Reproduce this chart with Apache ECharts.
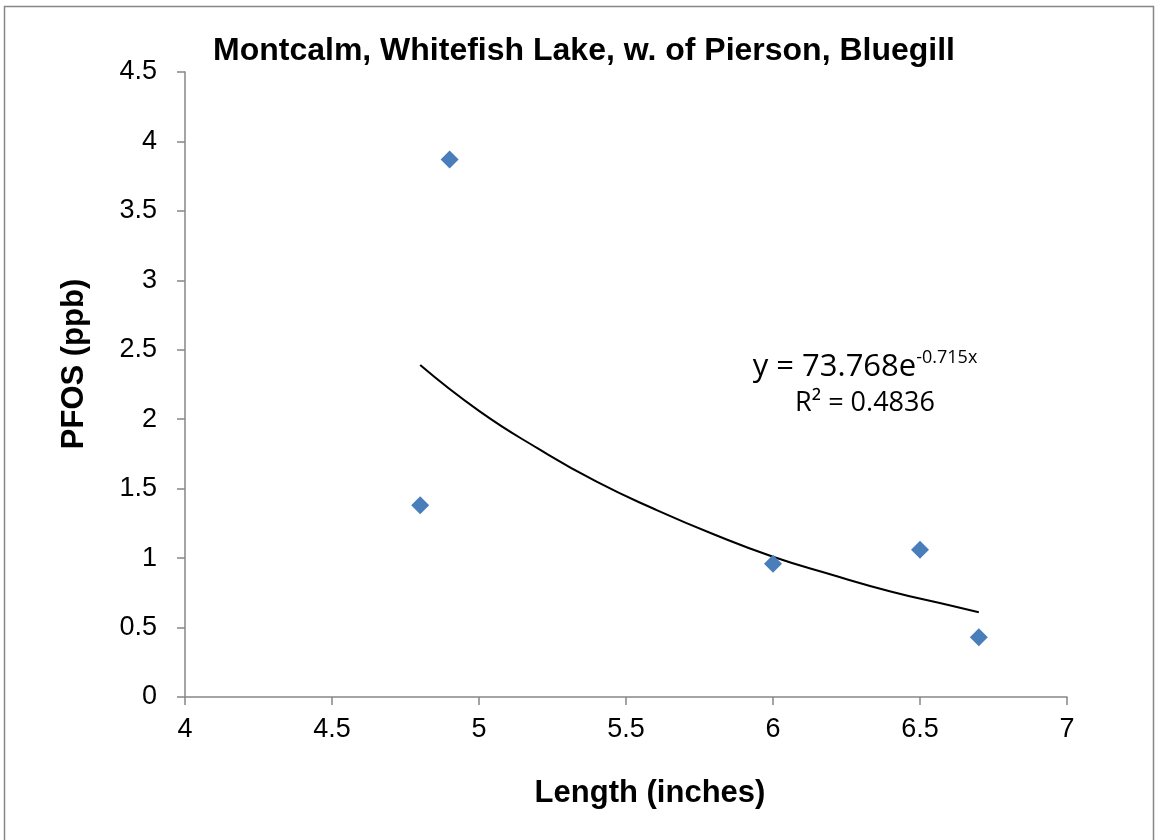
<!DOCTYPE html>
<html><head><meta charset="utf-8">
<script src="https://cdn.jsdelivr.net/npm/echarts@6/dist/echarts.min.js"></script>
<style>html,body{margin:0;padding:0;background:#fff}#c{width:1156px;height:840px}</style>
</head><body><div id="c"></div>
<script>
const lengths = [4.8, 4.9, 6.0, 6.5, 6.7];
const pfos = [1.38, 3.87, 0.96, 1.06, 0.43];
const trendX = [4.8, 5.0, 5.2, 5.4, 5.6, 5.8, 6.0, 6.2, 6.4, 6.6, 6.7];
const trendY = [2.39, 2.06, 1.79, 1.55, 1.35, 1.17, 1.01, 0.88, 0.76, 0.66, 0.61];
const xTicks = [4, 4.5, 5, 5.5, 6, 6.5, 7];
const yTicks = [0, 0.5, 1, 1.5, 2, 2.5, 3, 3.5, 4, 4.5];

const chart = echarts.init(document.getElementById('c'), null, {renderer: 'canvas'});
const font = 'Liberation Sans, Arial, sans-serif';
chart.setOption({
  animation: false,
  backgroundColor: '#fff',
  title: {
    text: 'Montcalm, Whitefish Lake, w. of Pierson, Bluegill',
    left: 579, top: 30, textAlign: 'center',
    textStyle: {fontFamily: font, fontWeight: 'bold', fontSize: 32, color: '#000'}
  },
  grid: {left: 185, right: 89, top: 72, bottom: 143},
  xAxis: {
    type: 'value', min: xTicks[0], max: xTicks[xTicks.length - 1], interval: 0.5,
    axisLine: {lineStyle: {color: '#868686', width: 1.5}},
    axisTick: {show: true, length: 8, lineStyle: {color: '#868686', width: 1.5}},
    axisLabel: {fontFamily: font, fontSize: 27, color: '#000', margin: 19},
    splitLine: {show: false}
  },
  yAxis: {
    type: 'value', min: yTicks[0], max: yTicks[yTicks.length - 1], interval: 0.5,
    axisLine: {show: true, lineStyle: {color: '#868686', width: 1.5}},
    axisTick: {show: true, length: 8, lineStyle: {color: '#868686', width: 1.5}},
    axisLabel: {fontFamily: font, fontSize: 27, color: '#000', margin: 28},
    splitLine: {show: false}
  },
  series: [
    {
      type: 'line', data: trendX.map((x, i) => [x, trendY[i]]),
      smooth: true, showSymbol: false, symbol: 'none',
      lineStyle: {color: '#000', width: 2}, z: 2
    },
    {
      type: 'scatter', data: lengths.map((x, i) => [x, pfos[i]]),
      symbol: 'diamond', symbolSize: 18,
      itemStyle: {color: '#4A7EBB', opacity: 1}, z: 3
    }
  ],
  graphic: [
    {type: 'rect', shape: {x: 4.5, y: 6.5, width: 1149, height: 840}, style: {fill: 'none', stroke: '#868686', lineWidth: 1.5}, silent: true},
    {type: 'text', x: 74, y: 364, rotation: Math.PI / 2, style: {
      text: 'PFOS (ppb)', fill: '#000', align: 'center', verticalAlign: 'middle',
      font: 'bold 31px Liberation Sans, Arial, sans-serif'
    }},
    {type: 'text', x: 650, y: 793, style: {
      text: 'Length (inches)', fill: '#000', align: 'center', verticalAlign: 'middle',
      font: 'bold 31px Liberation Sans, Arial, sans-serif'
    }},
    {type: 'text', x: 865, y: 366, style: {
      text: '{a|y = 73.768e}{b|-0.715x}', fill: '#000', align: 'center', verticalAlign: 'middle',
      rich: {a: {fontFamily: 'Open Sans, sans-serif', fontSize: 31, verticalAlign: 'bottom', fill: '#000'}, b: {fontFamily: 'Open Sans, sans-serif', fontSize: 18, verticalAlign: 'top', padding: [0, 0, 16, 0], fill: '#000'}}
    }},
    {type: 'text', x: 865, y: 403, style: {
      text: 'R² = 0.4836', fill: '#000', align: 'center', verticalAlign: 'middle',
      font: '27px Open Sans, sans-serif'
    }}
  ]
});
</script></body></html>
